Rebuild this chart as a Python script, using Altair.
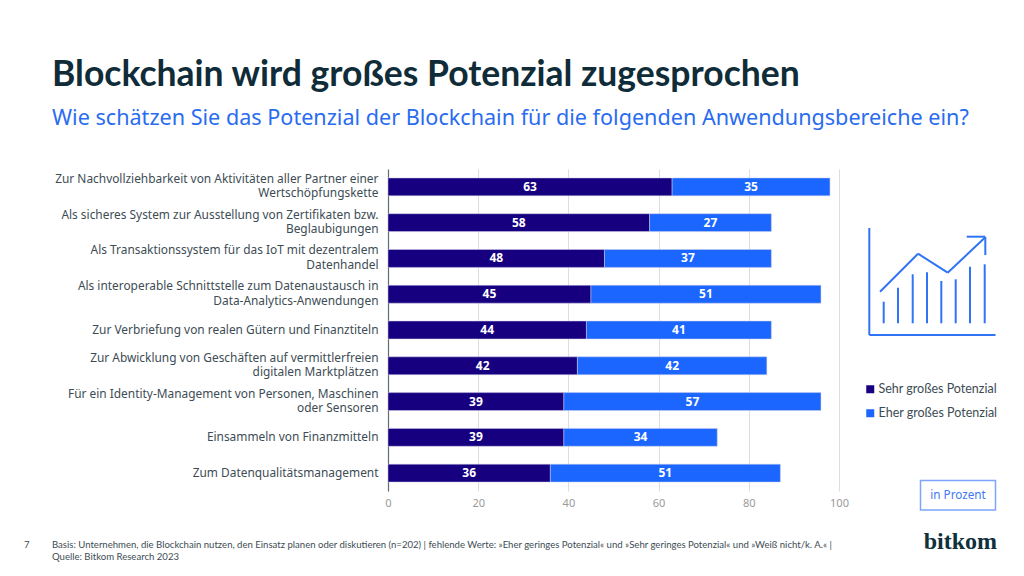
import altair as alt
import pandas as pd

categories = [
    "Zur Nachvollziehbarkeit von Aktivitäten aller Partner einer|Wertschöpfungskette",
    "Als sicheres System zur Ausstellung von Zertifikaten bzw.|Beglaubigungen",
    "Als Transaktionssystem für das IoT mit dezentralem|Datenhandel",
    "Als interoperable Schnittstelle zum Datenaustausch in|Data-Analytics-Anwendungen",
    "Zur Verbriefung von realen Gütern und Finanztiteln",
    "Zur Abwicklung von Geschäften auf vermittlerfreien|digitalen Marktplätzen",
    "Für ein Identity-Management von Personen, Maschinen|oder Sensoren",
    "Einsammeln von Finanzmitteln",
    "Zum Datenqualitätsmanagement",
]
sehr = [63, 58, 48, 45, 44, 42, 39, 39, 36]
eher = [35, 27, 37, 51, 41, 42, 57, 34, 51]
series = ["Sehr großes Potenzial", "Eher großes Potenzial"]
colors = ["#170080", "#1a66ff"]

FONT = "Noto Sans"
ALT = "Lato"
OX, OY = 388, 169
PW, PH = 451, 322

rows = []
for c, a, b in zip(categories, sehr, eher):
    rows.append({"cat": c, "series": series[0], "order": 0, "value": a})
    rows.append({"cat": c, "series": series[1], "order": 1, "value": b})
df = pd.DataFrame(rows)

base = alt.Chart(df).transform_stack(
    stack="value", as_=["x0", "x1"], groupby=["cat"],
    sort=[alt.SortField("order", order="ascending")],
).transform_calculate(mid="(datum.x0 + datum.x1) / 2")

y = alt.Y("cat:N", sort=categories, title=None, scale=alt.Scale(paddingInner=0.5, paddingOuter=0.25),
          axis=alt.Axis(
              labelExpr="split(datum.label, '|')", labelFont=FONT, labelFontSize=11.9,
              labelColor="#3d4c54", labelLineHeight=14.5, labelLimit=340, labelPadding=10,
              labelOffset={"condition": {"test": "indexof(datum.label, '|') >= 0", "value": -8}, "value": 0},
              ticks=False, domainColor="#5f6e76", domainWidth=1.2))
x = alt.X("x0:Q", title=None, scale=alt.Scale(domain=[0, 100]),
          axis=alt.Axis(values=[0, 20, 40, 60, 80, 100], labelFont=FONT, labelFontSize=11,
                        labelColor="#9a9a9a", gridColor="#dddddd", grid=True, ticks=False,
                        domain=False, labelPadding=6, labelFlush=False))

bars = base.mark_bar(stroke="#cfcfe8", strokeWidth=0.5).encode(
    y=y, x=x, x2="x1:Q",
    color=alt.Color("series:N", sort=series, title=None,
                    scale=alt.Scale(domain=series, range=colors),
                    legend=alt.Legend(orient="none", legendX=868 - OX - 4, legendY=383 - OY,
                                      symbolType="square", symbolSize=64, symbolStrokeWidth=0,
                                      labelFont=ALT, labelFontSize=12.5, labelColor="#3d4c54",
                                      rowPadding=11, labelOffset=2, padding=0)),
)
labels = base.mark_text(color="white", font=FONT, fontSize=12, fontWeight="bold").encode(
    y=alt.Y("cat:N", sort=categories), x=alt.X("mid:Q"), text="value:Q",
)


def txt(s, px, py, size, color, weight="normal", align="left", font=FONT):
    return alt.Chart(pd.DataFrame({"t": [s]})).mark_text(
        font=font, fontSize=size, color=color, fontWeight=weight, align=align, baseline="alphabetic"
    ).encode(x=alt.value(px - OX), y=alt.value(py - OY), text="t:N")


def seg(x1, y1, x2, y2, w=2.0):
    return alt.Chart(pd.DataFrame({"a": [0]})).mark_rule(color="#2f74f5", strokeWidth=w).encode(
        x=alt.value(x1 - OX), x2=alt.value(x2 - OX), y=alt.value(y1 - OY), y2=alt.value(y2 - OY))


icon_bar_x = [883.7, 898, 912.7, 927, 941.3, 955.7, 970, 984.7]
icon_bar_top = [301.7, 287.7, 274.3, 272.3, 281, 279.3, 266.7, 264.3]
icon_line = [(880, 291.7), (918, 253.7), (947.7, 272.7), (985.3, 237.3)]

layers = [bars, labels]
layers += [seg(a, t, a, 323.3) for a, t in zip(icon_bar_x, icon_bar_top)]
layers += [seg(p[0], p[1], q[0], q[1]) for p, q in zip(icon_line, icon_line[1:])]
layers += [seg(966.7, 236.7, 985.3, 236.7), seg(985.3, 237, 985.3, 255),
           seg(869.3, 228, 869.3, 335), seg(869.3, 335, 995.5, 335)]

box = alt.Chart(pd.DataFrame({"a": [0]})).mark_rect(fill="white", stroke="#7ea4fb", strokeWidth=1.5).encode(
    x=alt.value(920.5 - OX), x2=alt.value(995.5 - OX), y=alt.value(480.5 - OY), y2=alt.value(510 - OY))
layers += [box]

layers += [
    txt("Blockchain wird großes Potenzial zugesprochen", 52, 86, 35.5, "#0f2c38", "bold", font=ALT),
    txt("Wie schätzen Sie das Potenzial der Blockchain für die folgenden Anwendungsbereiche ein?", 52, 125, 21.6, "#2a6cf0"),
    txt("in Prozent", 958, 499, 11.7, "#3f78f2", align="center"),
    txt("7", 24, 548, 9.6, "#3d4c54", font=ALT),
    txt("Basis: Unternehmen, die Blockchain nutzen, den Einsatz planen oder diskutieren (n=202) | fehlende Werte: »Eher geringes Potenzial« und »Sehr geringes Potenzial« und »Weiß nicht/k. A.« |", 52, 548, 9.57, "#3d4c54", font=ALT),
    txt("Quelle: Bitkom Research 2023", 52, 560, 9.57, "#3d4c54", font=ALT),
    txt("bitkom", 997, 549, 24, "#10303c", "bold", "right", "Liberation Serif"),
]

chart = alt.layer(*layers).properties(
    width=PW, height=PH, background="white",
    padding={"left": OX - 8, "top": OY - 8, "right": 1008 - (OX - 8) - PW, "bottom": 556 - (OY - 8) - PH},
    autosize=alt.AutoSizeParams(type="none", contains="content"),
).configure_view(stroke=None)

chart.save("out.html", embed_options={"renderer": "svg", "actions": False})
